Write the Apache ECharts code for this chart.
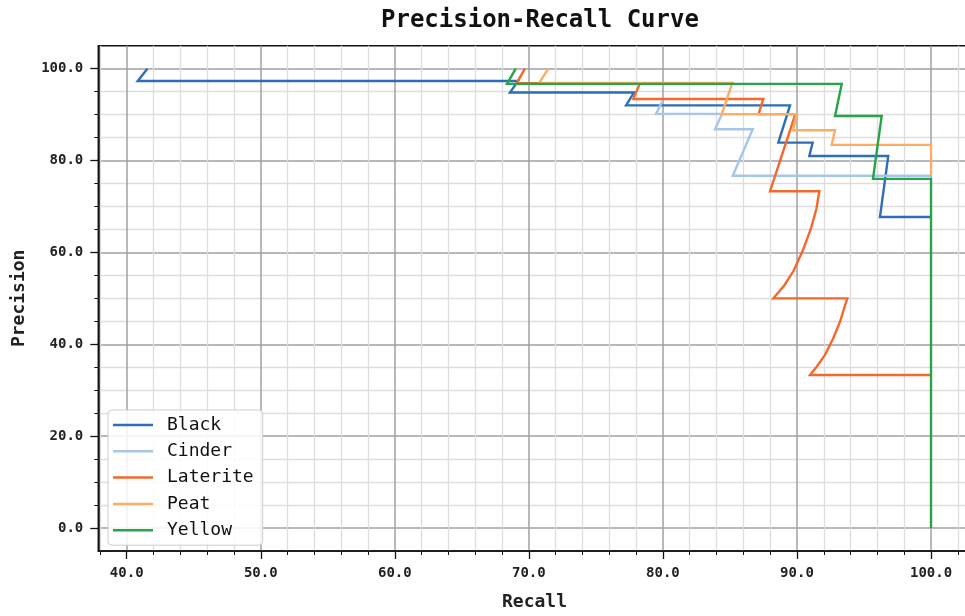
<!DOCTYPE html>
<html>
<head>
<meta charset="utf-8">
<title>Precision-Recall Curve</title>
<script src="https://cdn.jsdelivr.net/npm/echarts@6/dist/echarts.min.js"></script>
<style>
  html, body { margin: 0; padding: 0; background: #ffffff; overflow: hidden; }
  #chart { width: 1000px; height: 616px; }
</style>
</head>
<body>
<div id="chart"></div>
<script>
// Class names, in legend order
const classNames = ['Black', 'Cinder', 'Laterite', 'Peat', 'Yellow'];

// Recall / precision (percent) for each class
const blackRecall     = [41.54, 40.82, 69.19, 68.59, 77.84, 77.25, 89.48, 88.61, 91.17, 90.92, 96.81, 96.19, 100];
const blackPrecision  = [100.0, 97.3, 97.3, 94.8, 94.8, 92.0, 92.0, 83.9, 83.9, 81.0, 81.0, 67.7, 67.7];

const cinderRecall    = [79.95, 79.49, 84.41, 83.89, 86.70, 85.21, 100];
const cinderPrecision = [92.9, 90.15, 90.15, 86.8, 86.8, 76.7, 76.7];

const lateriteRecall    = [69.71, 69.09, 78.29, 77.79, 87.49, 87.13, 89.88, 87.99, 91.67, 91.45, 91.05, 90.45, 89.75, 89.05, 88.24, 93.76, 93.59, 93.21, 92.71, 92.09, 91.47, 90.97, 100];
const lateritePrecision = [100.0, 96.85, 96.85, 93.4, 93.4, 90.1, 90.1, 73.3, 73.3, 69.5, 65.3, 60.5, 56.0, 52.8, 50.0, 50.0, 48.5, 44.9, 41.3, 37.7, 35.1, 33.3, 33.3];

const peatRecall    = [71.45, 70.78, 85.18, 84.39, 89.98, 89.71, 92.84, 92.59, 100, 100];
const peatPrecision = [100.0, 96.9, 96.9, 90.1, 90.1, 86.6, 86.6, 83.4, 83.4, 76.7];

const yellowRecall    = [69.02, 68.37, 93.34, 92.84, 96.32, 95.67, 100, 100];
const yellowPrecision = [100.0, 96.7, 96.7, 89.7, 89.7, 76.0, 76.0, 0.0];

// Tick values
const recallTicks    = [40, 50, 60, 70, 80, 90, 100];
const precisionTicks = [0, 20, 40, 60, 80, 100];

const classColors = ['#2c6fb7', '#a7c5e9', '#f4692b', '#fcad63', '#27a448'];

const recallSets    = [blackRecall, cinderRecall, lateriteRecall, peatRecall, yellowRecall];
const precisionSets = [blackPrecision, cinderPrecision, lateritePrecision, peatPrecision, yellowPrecision];

const MONO = "'DejaVu Sans Mono', 'Liberation Mono', monospace";

function pairs(xs, ys) {
  return xs.map((x, i) => [x, ys[i]]);
}

const series = classNames.map((name, k) => ({
  name: name,
  type: 'line',
  data: pairs(recallSets[k], precisionSets[k]),
  showSymbol: false,
  symbol: 'none',
  animation: false,
  clip: true,
  lineStyle: { color: classColors[k], width: 2.4, join: 'miter' },
  itemStyle: { color: classColors[k] },
  emphasis: { disabled: true }
}));

const chart = echarts.init(document.getElementById('chart'), null, { renderer: 'canvas' });

chart.setOption({
  backgroundColor: '#ffffff',
  animation: false,
  title: {
    text: 'Precision-Recall Curve',
    left: 376,
    top: 4,
    textStyle: { fontFamily: MONO, fontSize: 24, fontWeight: 'bold', color: '#111111' }
  },
  grid: {
    left: 98.3,
    right: 29.3,
    top: 45.7,
    bottom: 62.7,
    show: true,
    borderColor: '#111111',
    borderWidth: 1.5,
    backgroundColor: 'transparent'
  },
  legend: {
    data: classNames,
    orient: 'vertical',
    left: 108,
    top: 410,
    icon: 'rect',
    itemWidth: 40,
    itemHeight: 2.5,
    itemGap: 6.3,
    padding: [5, 9, 5, 5],
    backgroundColor: 'rgba(255,255,255,0.85)',
    borderColor: '#cccccc',
    borderWidth: 1,
    borderRadius: 4,
    selectedMode: false,
    textStyle: {
      fontFamily: MONO,
      fontSize: 18,
      lineHeight: 20,
      color: '#111111',
      padding: [0, 0, 0, 9]
    }
  },
  xAxis: {
    type: 'value',
    min: 37.88,
    max: 102.96,
    name: 'Recall',
    nameLocation: 'middle',
    nameGap: 42,
    nameTextStyle: { fontFamily: MONO, fontSize: 18, fontWeight: 'bold', color: '#222222' },
    axisLine: { show: true, onZero: false, lineStyle: { color: '#111111', width: 1.5 } },
    axisTick: { show: true, inside: false, length: 8, customValues: recallTicks, lineStyle: { color: '#111111', width: 1.3 } },
    minorTick: { show: true, splitNumber: 5, length: 4, lineStyle: { color: '#111111', width: 1 } },
    axisLabel: {
      customValues: recallTicks,
      margin: 15,
      fontFamily: MONO,
      fontSize: 14,
      fontWeight: 'bold',
      color: '#222222',
      formatter: v => Number(v).toFixed(1)
    },
    splitLine: { show: true, lineStyle: { color: '#a0a0a0', width: 1.5 } },
    minorSplitLine: { show: true, lineStyle: { color: '#dddddd', width: 1.3 } }
  },
  yAxis: {
    type: 'value',
    min: -5,
    max: 105,
    name: 'Precision',
    nameLocation: 'middle',
    nameGap: 70,
    nameRotate: 90,
    nameTextStyle: { fontFamily: MONO, fontSize: 18, fontWeight: 'bold', color: '#222222' },
    axisLine: { show: true, onZero: false, lineStyle: { color: '#111111', width: 1.5 } },
    axisTick: { show: true, inside: false, length: 8, customValues: precisionTicks, lineStyle: { color: '#111111', width: 1.3 } },
    minorTick: { show: true, splitNumber: 4, length: 4, lineStyle: { color: '#111111', width: 1 } },
    axisLabel: {
      customValues: precisionTicks,
      margin: 15,
      fontFamily: MONO,
      fontSize: 14,
      fontWeight: 'bold',
      color: '#222222',
      formatter: v => Number(v).toFixed(1)
    },
    splitLine: { show: true, lineStyle: { color: '#a0a0a0', width: 1.5 } },
    minorSplitLine: { show: true, lineStyle: { color: '#dddddd', width: 1.3 } }
  },
  series: series
});
</script>
</body>
</html>
